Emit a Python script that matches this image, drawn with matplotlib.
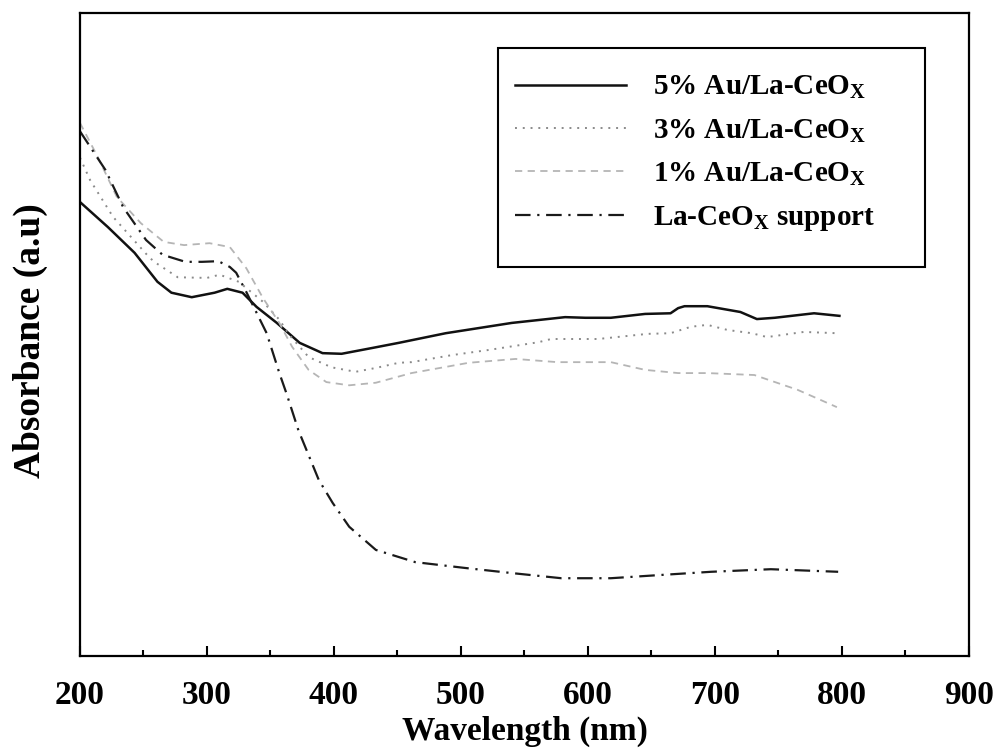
import numpy as np
import matplotlib.pyplot as plt
from matplotlib.patches import Rectangle

# ==========================================
# DATA (arbitrary units 0-100)
# ==========================================
wl_5 = [200, 222, 243, 261, 272, 288, 306, 316, 328, 339, 355, 373, 391, 406,
        430, 451, 488, 540, 582, 598, 618, 645, 665, 671, 676, 694, 720, 733,
        747, 778, 798]
abs_5 = [70.6, 66.7, 62.7, 58.2, 56.5, 55.8, 56.5, 57.1, 56.5, 54.3, 51.8, 48.7,
         47.1, 47.0, 47.9, 48.7, 50.2, 51.8, 52.7, 52.6, 52.6, 53.2, 53.3, 54.1,
         54.4, 54.4, 53.5, 52.4, 52.6, 53.3, 52.9]

wl_3 = [200, 208, 226, 255, 260, 277, 300, 310, 325, 344, 357, 365, 380, 398,
        417, 433, 451, 461, 493, 522, 561, 571, 608, 647, 665, 681, 694, 710,
        729, 741, 770, 796]
abs_3 = [77.5, 74.0, 68.3, 61.9, 61.1, 58.9, 58.8, 59.3, 58.2, 55.1, 52.3, 49.9,
         46.5, 44.9, 44.2, 44.8, 45.6, 45.7, 46.8, 47.6, 48.8, 49.3, 49.3, 50.1,
         50.2, 51.2, 51.5, 50.7, 50.2, 49.6, 50.4, 50.2]

wl_1 = [200, 214, 229, 248, 266, 282, 302, 318, 331, 344, 357, 367, 380, 394,
        412, 433, 461, 506, 543, 576, 618, 645, 671, 694, 731, 765, 780, 796]
abs_1 = [82.9, 77.6, 71.4, 67.3, 64.4, 63.9, 64.2, 63.6, 60.3, 55.7, 51.8, 48.1,
         44.5, 42.6, 42.1, 42.5, 44.0, 45.6, 46.2, 45.7, 45.7, 44.5, 44.0, 44.0,
         43.7, 41.4, 40.1, 38.7]

wl_sup = [200, 220, 234, 252, 265, 283, 296, 309, 318, 323, 331, 336, 347, 357,
          363, 372, 388, 399, 412, 433, 464, 503, 540, 579, 618, 657, 697, 744, 797]
abs_sup = [81.6, 75.6, 69.8, 64.7, 62.4, 61.3, 61.3, 61.4, 60.5, 59.6, 56.6, 54.6,
           50.2, 44.0, 40.6, 35.1, 27.4, 23.8, 20.1, 16.5, 14.6, 13.7, 12.9, 12.1,
           12.1, 12.6, 13.1, 13.5, 13.1]

LABELS = ['5% Au/La-CeO$_\\mathrm{X}$', '3% Au/La-CeO$_\\mathrm{X}$',
          '1% Au/La-CeO$_\\mathrm{X}$', 'La-CeO$_\\mathrm{X}$ support']
X_TICKS = [200, 300, 400, 500, 600, 700, 800, 900]

# ==========================================
# STYLE
# ==========================================
plt.rcParams['font.family'] = ['Liberation Serif', 'DejaVu Serif']
plt.rcParams['font.weight'] = 'bold'
plt.rcParams['mathtext.fontset'] = 'custom'
plt.rcParams['mathtext.rm'] = 'Liberation Serif:bold'
plt.rcParams['mathtext.bf'] = 'Liberation Serif:bold'
plt.rcParams['mathtext.it'] = 'Liberation Serif:bold'

fig = plt.figure(figsize=(10.01, 7.5), dpi=100)
ax = fig.add_axes([0.0799, 0.1253, 0.8881, 0.8574])

ax.plot(wl_5, abs_5, color='#111111', lw=1.8, ls='-', label=LABELS[0])
ax.plot(wl_3, abs_3, color='#8a8a8a', lw=1.4, ls=(0, (1, 3)), label=LABELS[1])
ax.plot(wl_1, abs_1, color='#b5b5b5', lw=1.3, ls=(0, (4, 3)), label=LABELS[2])
ax.plot(wl_sup, abs_sup, color='#1a1a1a', lw=1.6, ls=(0, (7, 3, 1, 3)), label=LABELS[3])

ax.set_xlim(200, 900)
ax.set_ylim(0, 100)
ax.set_xticks(X_TICKS)
ax.set_xticks(np.arange(250, 900, 100), minor=True)
ax.set_yticks([])
ax.tick_params(axis='x', which='major', direction='in', length=7, width=1.5,
               labelsize=24, pad=17)
ax.tick_params(axis='x', which='minor', direction='in', length=4.5, width=1.5)
for sp in ax.spines.values():
    sp.set_linewidth(1.6)

ax.set_xlabel('Wavelength (nm)', fontsize=24, fontweight='bold', labelpad=4)
ax.set_ylabel('Absorbance (a.u)', fontsize=27, fontweight='bold')
ax.yaxis.set_label_coords(-0.036, 0.49)

# legend drawn without its own frame; the box is a plain rectangle
leg = ax.legend(loc='upper left', bbox_to_anchor=(0.4893, 0.905), fontsize=21,
                frameon=False, handlelength=3.8, handletextpad=0.93,
                labelspacing=0.55, borderpad=0, borderaxespad=0)
for t in leg.get_texts():
    t.set_fontweight('bold')
ax.add_patch(Rectangle((0.4702, 0.605), 0.4803, 0.3406, transform=ax.transAxes,
                       fill=False, edgecolor='black', lw=1.5, zorder=5))

fig.savefig('out.png', dpi=100)
